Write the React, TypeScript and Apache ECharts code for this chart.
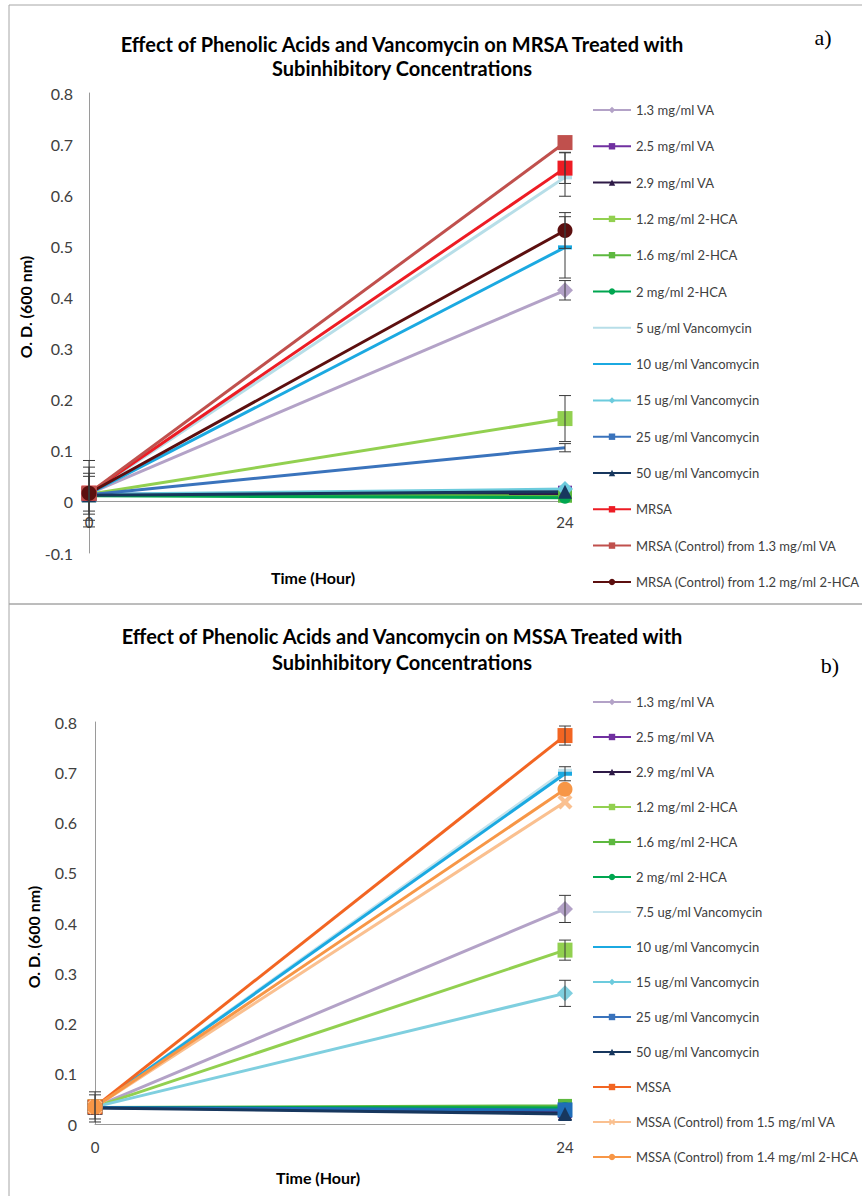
import React, { useEffect, useRef } from "react";
import * as echarts from "echarts";

// ---------- DATA ----------
const timePoints = [0, 24];

// Chart a) MRSA
const mrsaNames = [
  "1.3 mg/ml VA",
  "2.5 mg/ml VA",
  "2.9 mg/ml VA",
  "1.2 mg/ml 2-HCA",
  "1.6 mg/ml 2-HCA",
  "2 mg/ml 2-HCA",
  "5 ug/ml Vancomycin",
  "10 ug/ml Vancomycin",
  "15 ug/ml Vancomycin",
  "25 ug/ml Vancomycin",
  "50 ug/ml Vancomycin",
  "MRSA",
  "MRSA (Control) from 1.3 mg/ml VA",
  "MRSA (Control) from 1.2 mg/ml 2-HCA",
];
const mrsaAt0 = [0.016, 0.015, 0.014, 0.015, 0.013, 0.012, 0.016, 0.016, 0.015, 0.014, 0.013, 0.017, 0.017, 0.017];
const mrsaAt24 = [0.414, 0.018, 0.016, 0.163, 0.012, 0.008, 0.635, 0.498, 0.025, 0.106, 0.02, 0.653, 0.703, 0.531];
// error bars: time, mean, +/- error
const mrsaErrTime = [0, 0, 0, 0, 24, 24, 24, 24, 24, 24, 24];
const mrsaErrMean = [0.016, 0.016, 0.016, 0.016, 0.641, 0.653, 0.498, 0.531, 0.414, 0.163, 0.106];
const mrsaErrSd = [0.065, 0.052, 0.04, 0.034, 0.043, 0.03, 0.06, 0.035, 0.019, 0.045, 0.008];

// Chart b) MSSA
const mssaNames = [
  "1.3 mg/ml VA",
  "2.5 mg/ml VA",
  "2.9 mg/ml VA",
  "1.2 mg/ml 2-HCA",
  "1.6 mg/ml 2-HCA",
  "2 mg/ml 2-HCA",
  "7.5 ug/ml Vancomycin",
  "10 ug/ml Vancomycin",
  "15 ug/ml Vancomycin",
  "25 ug/ml Vancomycin",
  "50 ug/ml Vancomycin",
  "MSSA",
  "MSSA (Control) from 1.5 mg/ml VA",
  "MSSA (Control) from 1.4 mg/ml 2-HCA",
];
const mssaAt0 = [0.034, 0.033, 0.033, 0.034, 0.033, 0.033, 0.034, 0.034, 0.034, 0.033, 0.032, 0.034, 0.034, 0.034];
const mssaAt24 = [0.428, 0.026, 0.022, 0.346, 0.036, 0.032, 0.703, 0.697, 0.26, 0.028, 0.02, 0.773, 0.641, 0.666];
const mssaErrTime = [0, 0, 24, 24, 24, 24, 24];
const mssaErrMean = [0.034, 0.034, 0.773, 0.697, 0.428, 0.346, 0.26];
const mssaErrSd = [0.024, 0.03, 0.019, 0.014, 0.027, 0.02, 0.026];

// ---------- STYLES ----------
const xMarker = "path://M0,2L2,0L5,3L8,0L10,2L7,5L10,8L8,10L5,7L2,10L0,8L3,5Z";
const mrsaColors = ["#B3A2C7", "#7030A0", "#2E1A47", "#92D050", "#5DB83F", "#00A650", "#B7DEE8", "#1BA9E1", "#6CCBDD", "#3A73BC", "#17375E", "#ED1C24", "#C0504D", "#5C0F0F"];
const mssaColors = ["#B3A2C7", "#7030A0", "#2E1A47", "#92D050", "#5DB83F", "#00A650", "#C5E3EC", "#1BA9E1", "#7FCFDF", "#1F6DB8", "#17375E", "#F26522", "#FAC090", "#F79646"];
const commonSymbols = ["diamond", "rect", "triangle", "rect", "rect", "circle", "rect", "rect", "diamond", "rect", "triangle", "rect"];
const symbolSizes: any[] = [16, 14, 14, 15, 14, 12, [14, 4], [14, 4], 16, 15, 14, 15];
const mrsaSymbols = [...commonSymbols, "rect", "circle"];
const mrsaSizes = [...symbolSizes, 15, 15];
const mssaSymbols = [...commonSymbols, xMarker, "circle"];
const mssaSizes = [...symbolSizes, 15, 15];
const dashItems = new Set(["5 ug/ml Vancomycin", "7.5 ug/ml Vancomycin", "10 ug/ml Vancomycin"]);
// end point drawn without marker (top chart, 25 ug/ml)
const hiddenEndMarker = new Set(["a:25 ug/ml Vancomycin"]);

const FONT = "Lato, 'Open Sans', sans-serif";

function lineSeries(tag: string, names: string[], at0: number[], at24: number[], colors: string[], symbols: string[], sizes: any[], gi: number) {
  return names.map((name, i) => ({
    type: "line",
    name,
    xAxisIndex: gi,
    yAxisIndex: gi,
    data: [
      [timePoints[0], at0[i]],
      hiddenEndMarker.has(tag + ":" + name)
        ? { value: [timePoints[1], at24[i]], symbol: "none" }
        : [timePoints[1], at24[i]],
    ],
    symbol: symbols[i],
    symbolSize: sizes[i],
    showSymbol: true,
    lineStyle: { color: colors[i], width: 3 },
    itemStyle: { color: colors[i] },
    color: colors[i],
    emphasis: { disabled: true },
  }));
}

function errSeries(times: number[], means: number[], sds: number[], gi: number) {
  return {
    type: "custom",
    name: "err" + gi,
    xAxisIndex: gi,
    yAxisIndex: gi,
    silent: true,
    z: 5,
    data: times.map((t, i) => [t, means[i], sds[i]]),
    encode: { x: 0, y: 1 },
    renderItem: (params: any, api: any) => {
      const x = api.value(0);
      const m = api.value(1);
      const e = api.value(2);
      const top = api.coord([x, m + e]);
      const bot = api.coord([x, m - e]);
      const hw = 6;
      const st = { stroke: "#3A3A3A", lineWidth: 1 };
      return {
        type: "group",
        children: [
          { type: "line", shape: { x1: top[0], y1: top[1], x2: bot[0], y2: bot[1] }, style: st },
          { type: "line", shape: { x1: top[0] - hw, y1: top[1], x2: top[0] + hw, y2: top[1] }, style: st },
          { type: "line", shape: { x1: bot[0] - hw, y1: bot[1], x2: bot[0] + hw, y2: bot[1] }, style: st },
        ],
      };
    },
  };
}

function legendFor(names: string[], top: number, gap: number) {
  return {
    orient: "vertical",
    left: 587,
    top,
    itemWidth: 38,
    itemHeight: 8,
    itemGap: gap,
    selectedMode: false,
    textStyle: { fontFamily: FONT, fontSize: 13, color: "#404040", lineHeight: 16 },
    data: names.map((n) => (dashItems.has(n) ? { name: n, itemStyle: { opacity: 0 } } : { name: n })),
  };
}

const axisLabelStyle = { fontFamily: FONT, fontSize: 16, color: "#404040" };

export default function App() {
  const ref = useRef<HTMLDivElement>(null);
  useEffect(() => {
    if (!ref.current) return;
    const chart = echarts.init(ref.current, undefined, { renderer: "svg" });
    const titleFont = `bold 20px ${FONT}`;
    const nameFont = `bold 16px ${FONT}`;
    const option: any = {
      animation: false,
      backgroundColor: "#ffffff",
      grid: [
        { left: 89, right: 297, top: 93, bottom: 1196 - 553, containLabel: false },
        { left: 95, right: 297, top: 722, bottom: 1196 - 1124, containLabel: false },
      ],
      xAxis: [
        {
          type: "value", gridIndex: 0, min: 0, max: 24, interval: 24,
          offset: -52,
          axisLine: { onZero: false, lineStyle: { color: "#9A9A9A", width: 1 } },
          axisTick: { show: false }, splitLine: { show: false },
          axisLabel: { fontFamily: FONT, fontSize: 15, color: "#404040", margin: 13 },
        },
        {
          type: "value", gridIndex: 1, min: 0, max: 24, interval: 24,
          axisLine: { onZero: false, lineStyle: { color: "#9A9A9A", width: 1 } },
          axisTick: { show: false }, splitLine: { show: false },
          axisLabel: { fontFamily: FONT, fontSize: 15, color: "#404040", margin: 15 },
        },
      ],
      yAxis: [
        {
          type: "value", gridIndex: 0, min: -0.1, max: 0.8, interval: 0.1,
          axisLine: { show: true, onZero: false, lineStyle: { color: "#9A9A9A", width: 1 } },
          axisTick: { show: false }, splitLine: { show: false },
          axisLabel: { ...axisLabelStyle, margin: 16 },
        },
        {
          type: "value", gridIndex: 1, min: 0, max: 0.8, interval: 0.1,
          axisLine: { show: true, onZero: false, lineStyle: { color: "#9A9A9A", width: 1 } },
          axisTick: { show: false }, splitLine: { show: false },
          axisLabel: { ...axisLabelStyle, margin: 18 },
        },
      ],
      legend: [legendFor(mrsaNames, 97, 20.3), legendFor(mssaNames, 689, 19)],
      series: [
        ...lineSeries("a", mrsaNames, mrsaAt0, mrsaAt24, mrsaColors, mrsaSymbols, mrsaSizes, 0),
        errSeries(mrsaErrTime, mrsaErrMean, mrsaErrSd, 0),
        ...lineSeries("b", mssaNames, mssaAt0, mssaAt24, mssaColors, mssaSymbols, mssaSizes, 1),
        errSeries(mssaErrTime, mssaErrMean, mssaErrSd, 1),
      ],
      graphic: [
        { type: "rect", shape: { x: 9, y: 5, width: 880, height: 599 }, style: { fill: "none", stroke: "#A6A6A6", lineWidth: 1 }, silent: true },
        { type: "rect", shape: { x: 9, y: 604, width: 880, height: 620 }, style: { fill: "none", stroke: "#A6A6A6", lineWidth: 1 }, silent: true },
        { type: "text", x: 402, y: 44, style: { text: "Effect of Phenolic Acids and Vancomycin on MRSA Treated with", font: titleFont, fill: "#000", textAlign: "center", textVerticalAlign: "middle" } },
        { type: "text", x: 402, y: 68, style: { text: "Subinhibitory Concentrations", font: titleFont, fill: "#000", textAlign: "center", textVerticalAlign: "middle" } },
        { type: "text", x: 823, y: 37, style: { text: "a)", font: `22px 'Liberation Serif', 'DejaVu Serif', serif`, fill: "#000", textAlign: "center", textVerticalAlign: "middle" } },
        { type: "text", x: 402, y: 636, style: { text: "Effect of Phenolic Acids and Vancomycin on MSSA Treated with", font: titleFont, fill: "#000", textAlign: "center", textVerticalAlign: "middle" } },
        { type: "text", x: 402, y: 662, style: { text: "Subinhibitory Concentrations", font: titleFont, fill: "#000", textAlign: "center", textVerticalAlign: "middle" } },
        { type: "text", x: 830, y: 665, style: { text: "b)", font: `22px 'Liberation Serif', 'DejaVu Serif', serif`, fill: "#000", textAlign: "center", textVerticalAlign: "middle" } },
        { type: "text", x: 25, y: 307, rotation: Math.PI / 2, style: { text: "O. D. (600 nm)", font: nameFont, fill: "#000", textAlign: "center", textVerticalAlign: "middle" } },
        { type: "text", x: 33, y: 937, rotation: Math.PI / 2, style: { text: "O. D. (600 nm)", font: nameFont, fill: "#000", textAlign: "center", textVerticalAlign: "middle" } },
        { type: "text", x: 313, y: 577, style: { text: "Time (Hour)", font: nameFont, fill: "#000", textAlign: "center", textVerticalAlign: "middle" } },
        { type: "text", x: 318, y: 1177, style: { text: "Time (Hour)", font: nameFont, fill: "#000", textAlign: "center", textVerticalAlign: "middle" } },
      ],
    };
    chart.setOption(option);
    return () => chart.dispose();
  }, []);
  return (
    <div
      ref={ref}
      style={{ position: "absolute", left: 0, top: 0, width: 862, height: 1196, background: "#fff" }}
    />
  );
}
